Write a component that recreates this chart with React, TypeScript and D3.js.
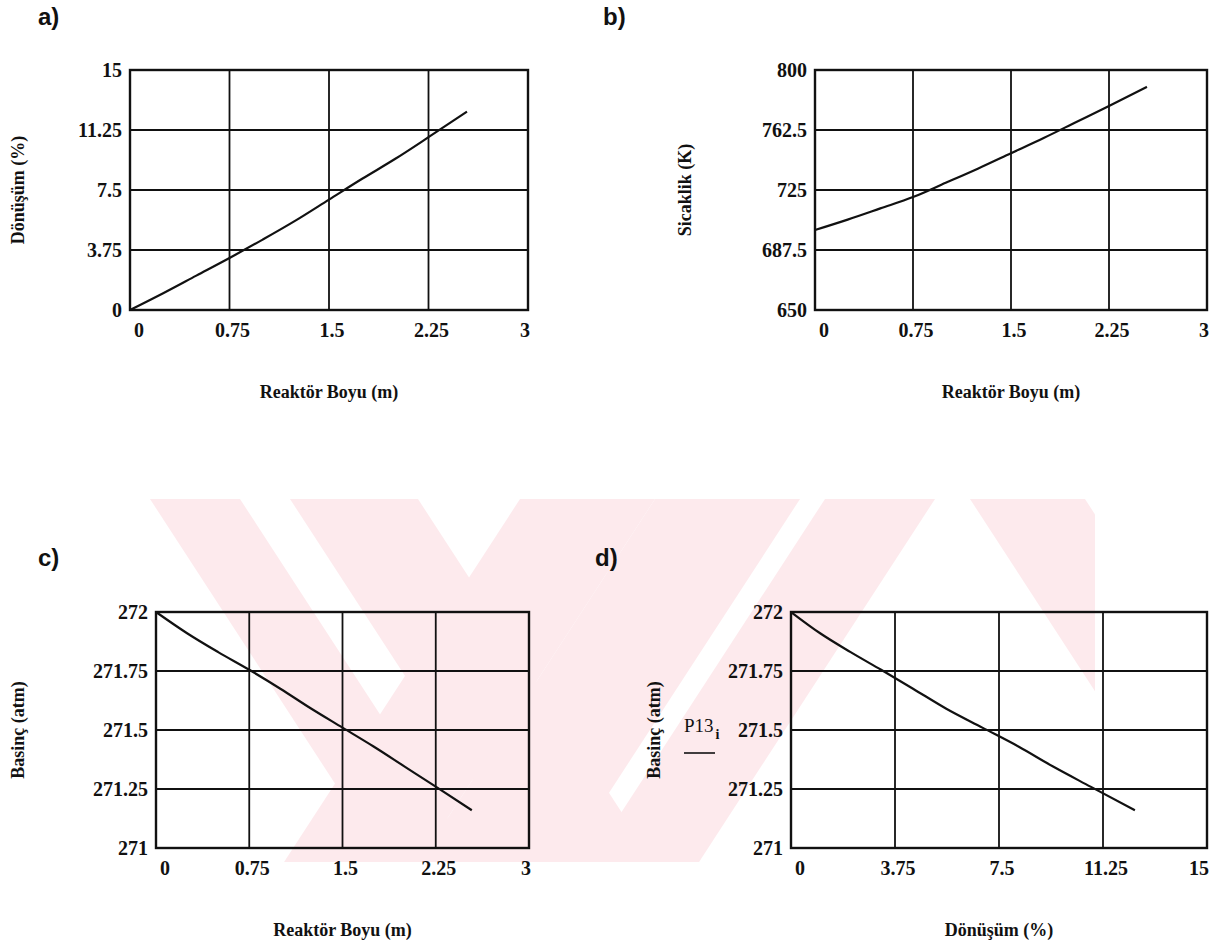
import React from "react";
import * as d3 from "d3";

// reactor length (m) at which the profiles were sampled
const reactorLength = [0, 0.25, 0.5, 0.75, 1.0, 1.25, 1.5, 1.75, 2.0, 2.25, 2.54];
// conversion (%)
const conversion = [0, 1.05, 2.15, 3.25, 4.4, 5.6, 6.9, 8.2, 9.45, 10.8, 12.4];
// temperature (K)
const temperature = [700, 706.5, 713.5, 720.6, 729.5, 738.5, 748, 757.5, 767.5, 777.5, 789.5];
// pressure (atm)
const pressure = [272, 271.91, 271.83, 271.755, 271.675, 271.59, 271.51, 271.43, 271.345, 271.26, 271.16];

const lengthTicks = [0, 0.75, 1.5, 2.25, 3];
const conversionTicks = [0, 3.75, 7.5, 11.25, 15];
const temperatureTicks = [650, 687.5, 725, 762.5, 800];
const pressureTicks = [271, 271.25, 271.5, 271.75, 272];

const SERIF = "'Liberation Serif', 'Times New Roman', serif";
const SANS = "'Liberation Sans', Arial, sans-serif";
const INK = "#111";
const PINK = "#fdeaed";

const panels = [
  {
    label: "a)", labelX: 38, labelY: 25,
    left: 130, right: 528, top: 70, bottom: 310,
    xs: reactorLength, ys: conversion,
    xTicks: lengthTicks, yTicks: conversionTicks,
    xTitle: "Reaktör Boyu (m)", yTitle: "Dönüşüm (%)", yTitleX: 24,
  },
  {
    label: "b)", labelX: 603, labelY: 25,
    left: 815, right: 1207, top: 70, bottom: 310,
    xs: reactorLength, ys: temperature,
    xTicks: lengthTicks, yTicks: temperatureTicks,
    xTitle: "Reaktör Boyu (m)", yTitle: "Sicaklik (K)", yTitleX: 691,
  },
  {
    label: "c)", labelX: 38, labelY: 566,
    left: 156, right: 529, top: 612, bottom: 848,
    xs: reactorLength, ys: pressure,
    xTicks: lengthTicks, yTicks: pressureTicks,
    xTitle: "Reaktör Boyu (m)", yTitle: "Basinç (atm)", yTitleX: 24,
  },
  {
    label: "d)", labelX: 595, labelY: 566,
    left: 791, right: 1207, top: 612, bottom: 848,
    xs: conversion, ys: pressure,
    xTicks: conversionTicks, yTicks: pressureTicks,
    xTitle: "Dönüşüm (%)", yTitle: "Basinç (atm)", yTitleX: 660,
    placeholder: true,
  },
];

// faint watermark bands behind the lower panels: [left, right, slope] at top edge
const wmTop = 499;
const wmBottom = 862;
const wmBands = [
  [150, 240, 0.65],
  [290, 418, 0.65],
  [520, 655, -0.65],
  [655, 800, -0.65],
  [825, 935, -0.65],
  [970, 1085, 0.65],
];

function Panel({ p }) {
  const x = d3.scaleLinear().domain(d3.extent(p.xTicks)).range([p.left, p.right]);
  const y = d3.scaleLinear().domain(d3.extent(p.yTicks)).range([p.bottom, p.top]);
  const line = d3
    .line()
    .x((d) => x(d[0]))
    .y((d) => y(d[1]))
    .curve(d3.curveMonotoneX);
  const pts = p.xs.map((v, i) => [v, p.ys[i]]);
  const cx = (p.left + p.right) / 2;
  const cy = (p.top + p.bottom) / 2;
  const n = p.xTicks.length;

  return (
    <g>
      <text x={p.labelX} y={p.labelY} fontFamily={SANS} fontWeight="bold" fontSize={24} fill={INK}>
        {p.label}
      </text>

      {p.xTicks.slice(1, -1).map((t) => (
        <line key={"gx" + t} x1={x(t)} x2={x(t)} y1={p.top} y2={p.bottom} stroke={INK} strokeWidth={1.8} />
      ))}
      {p.yTicks.slice(1, -1).map((t) => (
        <line key={"gy" + t} x1={p.left} x2={p.right} y1={y(t)} y2={y(t)} stroke={INK} strokeWidth={1.8} />
      ))}
      <rect
        x={p.left}
        y={p.top}
        width={p.right - p.left}
        height={p.bottom - p.top}
        fill="none"
        stroke={INK}
        strokeWidth={2.4}
      />
      <path d={line(pts)} fill="none" stroke={INK} strokeWidth={2.2} />

      {p.xTicks.map((t, i) => {
        let anchor = "middle";
        let dx = 3;
        if (i === 0) { anchor = "start"; dx = 4; }
        if (i === n - 1) { anchor = "end"; dx = 2; }
        return (
          <text
            key={"tx" + t}
            x={x(t) + dx}
            y={p.bottom + 27}
            textAnchor={anchor}
            fontFamily={SERIF}
            fontWeight="bold"
            fontSize={20}
            fill={INK}
          >
            {String(t)}
          </text>
        );
      })}
      {p.yTicks.map((t) => (
        <text
          key={"ty" + t}
          x={p.left - 8}
          y={y(t) + 7}
          textAnchor="end"
          fontFamily={SERIF}
          fontWeight="bold"
          fontSize={20}
          fill={INK}
        >
          {String(t)}
        </text>
      ))}

      <text
        x={cx}
        y={p.bottom + 88}
        textAnchor="middle"
        fontFamily={SERIF}
        fontWeight="bold"
        fontSize={18}
        fill={INK}
      >
        {p.xTitle}
      </text>
      <text
        transform={`translate(${p.yTitleX},${cy}) rotate(-90)`}
        textAnchor="middle"
        fontFamily={SERIF}
        fontWeight="bold"
        fontSize={18}
        fill={INK}
      >
        {p.yTitle}
      </text>

      {p.placeholder && (
        <g>
          <text x={684} y={732} fontFamily={SERIF} fontSize={19} fill={INK}>
            P13
            <tspan dx={2} dy={7} fontSize={14} fontWeight="bold">i</tspan>
          </text>
          <line x1={684} x2={715} y1={753} y2={753} stroke={INK} strokeWidth={1.6} />
        </g>
      )}
    </g>
  );
}

export default function App() {
  const h = wmBottom - wmTop;
  return (
    <svg
      width={1223}
      height={947}
      style={{ position: "absolute", left: 0, top: 0, background: "#fff" }}
    >
      <defs>
        <clipPath id="wm">
          <rect x={150} y={wmTop} width={945} height={h} />
        </clipPath>
      </defs>
      <g clipPath="url(#wm)">
        {wmBands.map(([a, b, k], i) => (
          <polygon
            key={i}
            points={`${a},${wmTop} ${b},${wmTop} ${b + k * h},${wmBottom} ${a + k * h},${wmBottom}`}
            fill={PINK}
          />
        ))}
      </g>
      {panels.map((p) => (
        <Panel key={p.label} p={p} />
      ))}
    </svg>
  );
}
